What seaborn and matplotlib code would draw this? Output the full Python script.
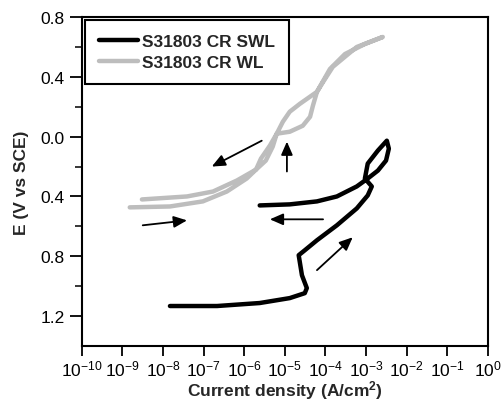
import numpy as np
import pandas as pd
import seaborn as sns
import matplotlib
matplotlib.use('Agg')
import matplotlib.pyplot as plt
from matplotlib.ticker import FixedLocator, FixedFormatter, LogLocator, NullLocator

# S31803 CR SWL (black): anodic scan then reverse scan, log10(I) and E
swl_logi = [-7.83, -6.67, -5.62, -4.88, -4.51, -4.46, -4.58, -4.66, -4.51, -4.21,
            -3.72, -3.23, -2.96, -2.86, -3.03, -2.96, -2.71, -2.49,
            -2.44, -2.51, -2.71, -2.96, -3.23, -3.72, -4.21, -4.88, -5.62]
swl_e = [-1.133, -1.133, -1.113, -1.08, -1.047, -1.013, -0.927, -0.793, -0.76, -0.693,
         -0.593, -0.48, -0.393, -0.333, -0.28, -0.18, -0.093, -0.027,
         -0.08, -0.16, -0.227, -0.28, -0.333, -0.40, -0.433, -0.453, -0.46]

# S31803 CR WL (gray)
wl_logi = [-8.82, -7.83, -7.02, -6.43, -5.94, -5.71, -5.59, -5.37, -5.20, -4.88,
           -4.56, -4.38, -4.31, -4.21, -4.09, -3.82, -3.23, -2.59,
           -3.03, -3.52, -3.89, -4.21, -4.63, -4.88, -5.05, -5.20, -5.30, -5.47,
           -5.71, -6.18, -6.77, -7.41, -8.52]
wl_e = [-0.473, -0.467, -0.433, -0.367, -0.28, -0.22, -0.147, -0.06, 0.02, 0.033,
        0.073, 0.133, 0.207, 0.30, 0.353, 0.467, 0.60, 0.667,
        0.62, 0.553, 0.453, 0.30, 0.22, 0.167, 0.10, 0.02, -0.067, -0.16,
        -0.22, -0.293, -0.367, -0.40, -0.42]

# scan direction arrows: (log I start, E start, log I tip, E tip)
arrows = [
    (-5.57, -0.027, -6.80, -0.20),
    (-4.95, -0.233, -4.95, -0.033),
    (-8.50, -0.593, -7.41, -0.56),
    (-4.06, -0.553, -5.37, -0.553),
    (-4.21, -0.893, -3.33, -0.673),
]

y_major = [0.8, 0.4, 0.0, -0.4, -0.8, -1.2]
y_labels = ['0.8', '0.4', '0.0', '0.4', '0.8', '1.2']
y_minor = [0.6, 0.2, -0.2, -0.6, -1.0]

sns.set_style('ticks')
plt.rcParams['font.family'] = ['Liberation Sans', 'DejaVu Sans']
plt.rcParams['mathtext.fontset'] = 'custom'
plt.rcParams['mathtext.rm'] = 'Liberation Sans'
plt.rcParams['mathtext.default'] = 'regular'

df_swl = pd.DataFrame({'I': 10 ** np.array(swl_logi), 'E': swl_e})
df_wl = pd.DataFrame({'I': 10 ** np.array(wl_logi), 'E': wl_e})

fig = plt.figure(figsize=(5.02, 4.02), dpi=100)
ax = fig.add_axes([0.163, 0.137, 0.809, 0.818])

sns.lineplot(data=df_swl, x='I', y='E', sort=False, estimator=None, color='black',
             lw=3.2, label='S31803 CR SWL', ax=ax,
             solid_joinstyle='round', solid_capstyle='round')
sns.lineplot(data=df_wl, x='I', y='E', sort=False, estimator=None, color='#bdbdbd',
             lw=3.2, label='S31803 CR WL', ax=ax,
             solid_joinstyle='round', solid_capstyle='round')

for x0, y0, x1, y1 in arrows:
    ax.annotate('', xy=(10 ** x1, y1), xytext=(10 ** x0, y0),
                arrowprops=dict(arrowstyle='-|>,head_length=0.8,head_width=0.35',
                                color='black', lw=1.3, shrinkA=0, shrinkB=0))

ax.set_xscale('log')
ax.set_xlim(1e-10, 1e0)
ax.set_ylim(-1.4, 0.8)
ax.xaxis.set_major_locator(LogLocator(base=10, numticks=20))
ax.xaxis.set_minor_locator(NullLocator())
ax.yaxis.set_major_locator(FixedLocator(y_major))
ax.yaxis.set_major_formatter(FixedFormatter(y_labels))
ax.yaxis.set_minor_locator(FixedLocator(y_minor))

ax.tick_params(axis='both', which='major', direction='out', length=9, width=1.3,
               labelsize=12.5, colors='black')
ax.tick_params(axis='y', which='minor', direction='out', length=5, width=1.3)
ax.tick_params(axis='x', which='major', length=7, pad=2)
for s in ax.spines.values():
    s.set_linewidth(1.5)
    s.set_color('black')
    s.set_visible(True)

ax.set_xlabel('Current density (A/cm$^2$)', fontsize=12.5, fontweight='bold', labelpad=0)
ax.set_ylabel('E (V vs SCE)', fontsize=12.5, fontweight='bold', labelpad=8)

leg = ax.legend(loc='upper left', bbox_to_anchor=(0.007, 0.99), borderaxespad=0,
                prop={'weight': 'bold', 'size': 12.5}, handlelength=2.3,
                handletextpad=0.2, labelspacing=0.3, borderpad=0.8,
                fancybox=False, framealpha=1, edgecolor='black')
leg.get_frame().set_linewidth(1.5)

fig.savefig('out.png', dpi=100)
